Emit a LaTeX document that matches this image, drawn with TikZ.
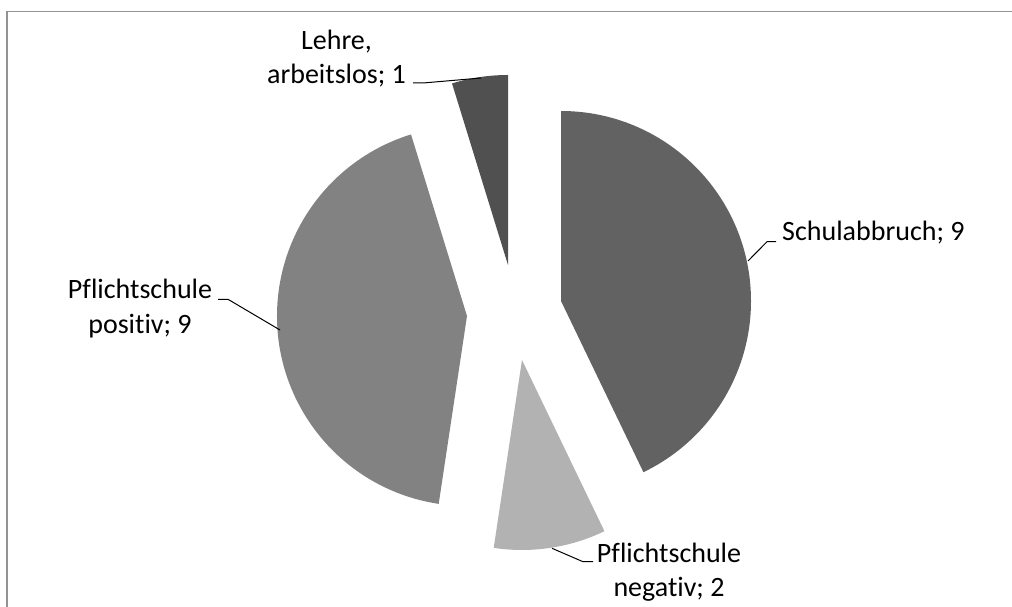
\documentclass[tikz,border=0pt]{standalone}
\usepackage{fontspec}
\setmainfont[Ligatures=NoCommon]{Carlito}
\definecolor{schulgray}{HTML}{626262}
\definecolor{neggray}{HTML}{B2B2B2}
\definecolor{posgray}{HTML}{828282}
\definecolor{lehregray}{HTML}{505050}
\begin{document}
\begin{tikzpicture}[x=1pt, y=1pt,
    lbl/.style={inner sep=0pt, font=\fontsize{28}{34.5}\selectfont, align=center},
    leader/.style={draw=black, line width=1pt}]
  \useasboundingbox (0,0) rectangle (1012,606);
  \draw[color=gray!85, line width=1.5pt] (7,-10) -- (7,594.5) -- (1022,594.5);

  \coordinate (schul) at (561,305);
  \coordinate (neg) at (522,246);
  \coordinate (pos) at (467,290);
  \coordinate (lehre) at (508,341);

  \fill[schulgray] (schul) -- ++(90:190) arc (90:-64.29:190) -- cycle;
  \fill[neggray] (neg) -- ++(-64.29:190) arc (-64.29:-98.57:190) -- cycle;
  \fill[posgray] (pos) -- ++(-98.57:190) arc (-98.57:-252.86:190) -- cycle;
  \fill[lehregray] (lehre) -- ++(107.14:190) arc (107.14:90:190) -- cycle;

  \node[lbl, anchor=base west] (schul-lbl) at (782,365.3) {Schulabbruch; 9};
  \node[lbl, anchor=base] (neg-lbl) at (669,9.3) {Pflichtschule\\negativ; 2};
  \node[lbl, anchor=base] (pos-lbl) at (140,272.7) {Pflichtschule\\positiv; 9};
  \node[lbl, anchor=base] (lehre-lbl) at (336.5,522) {Lehre,\\arbeitslos; 1};

  \coordinate (schul-a) at (776,364.3);
  \coordinate (schul-b) at (767,364.3);
  \coordinate (schul-c) at (748,345);
  \coordinate (neg-a) at (593,44.3);
  \coordinate (neg-b) at (583,44.3);
  \coordinate (neg-c) at (552,57.7);
  \coordinate (pos-a) at (218,306.7);
  \coordinate (pos-b) at (228,306.7);
  \coordinate (pos-c) at (280,276);
  \coordinate (lehre-a) at (413,523);
  \coordinate (lehre-b) at (423,523);
  \coordinate (lehre-c) at (481,528);

  \draw[leader] (schul-a) -- (schul-b) -- (schul-c);
  \draw[leader] (neg-a) -- (neg-b) -- (neg-c);
  \draw[leader] (pos-a) -- (pos-b) -- (pos-c);
  \draw[leader] (lehre-a) -- (lehre-b) -- (lehre-c);
\end{tikzpicture}
\end{document}
